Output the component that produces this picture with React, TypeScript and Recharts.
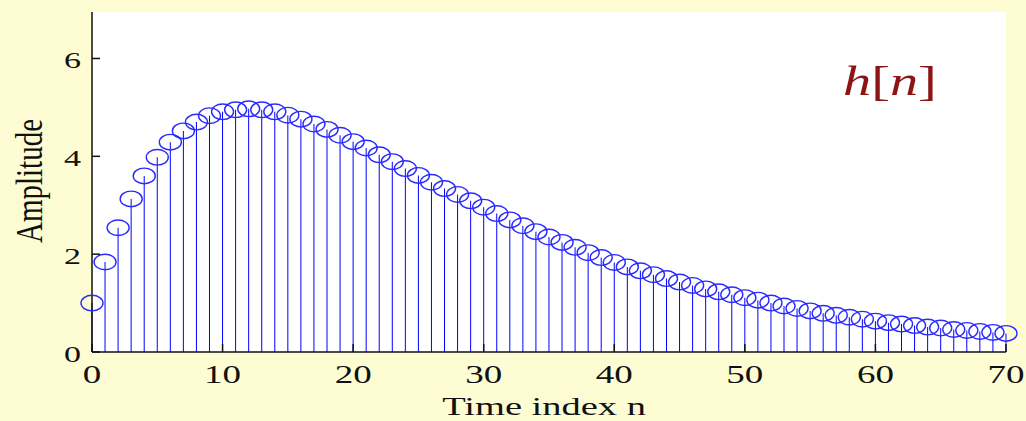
import React from 'react';
import { Bar, CartesianGrid, ComposedChart, Line, XAxis, YAxis } from 'recharts';

// impulse response samples h[n], n = 0..70
const hValues = [
    1.0, 1.84, 2.54, 3.13, 3.6, 3.98, 4.29, 4.52, 4.7, 4.83,
    4.91, 4.95, 4.97, 4.95, 4.91, 4.84, 4.76, 4.66, 4.55, 4.43,
    4.3, 4.17, 4.03, 3.89, 3.75, 3.61, 3.47, 3.34, 3.22, 3.09,
    2.96, 2.83, 2.7, 2.58, 2.46, 2.35, 2.24, 2.14, 2.03, 1.93,
    1.83, 1.74, 1.66, 1.58, 1.5, 1.43, 1.36, 1.29, 1.23, 1.17,
    1.11, 1.06, 1.0, 0.94, 0.89, 0.84, 0.79, 0.75, 0.71, 0.67,
    0.63, 0.6, 0.57, 0.54, 0.51, 0.49, 0.46, 0.44, 0.42, 0.4, 0.38,
];
const xTicks = [0, 10, 20, 30, 40, 50, 60, 70];
const yTicks = [0, 2, 4, 6];

const data = hValues.map((h, n) => ({ n, h }));

const SERIF = "'Liberation Serif', 'Times New Roman', serif";
const BG = '#FDFCD2';
const STRETCH = 1.48;

function XTick({ x, y, payload }: any) {
    return (
        <g transform={`translate(${x},${y}) scale(${STRETCH},1)`}>
            <text textAnchor="middle" dy={31} fontFamily={SERIF} fontSize={25} fill="#111">
                {payload.value}
            </text>
        </g>
    );
}

function YTick({ x, y, payload }: any) {
    return (
        <g transform={`translate(${x},${y}) scale(${STRETCH},1)`}>
            <text textAnchor="end" dy={10} fontFamily={SERIF} fontSize={23} fill="#111">
                {payload.value}
            </text>
        </g>
    );
}

function NoTick() {
    return <g />;
}

function Ring({ cx, cy, index }: any) {
    if (cx == null || cy == null) return <g key={index} />;
    return <ellipse key={index} cx={cx} cy={cy} rx={11} ry={7.8} fill="none" stroke="#2a2aff" strokeWidth={1.4} />;
}

const axisLine = { stroke: '#111', strokeWidth: 1.5 };

export default function App() {
    return (
        <div style={{ position: 'absolute', left: 0, top: 0, width: 1026, height: 421, background: BG, overflow: 'hidden' }}>
            <ComposedChart width={1026} height={421} data={data} margin={{ top: 12, right: 20, bottom: 0, left: 0 }}>
                <CartesianGrid fill="#ffffff" horizontal={false} vertical={false} />
                <XAxis
                    dataKey="n"
                    type="number"
                    domain={[0, 70]}
                    ticks={xTicks}
                    interval={0}
                    height={69}
                    tickSize={-8}
                    tickMargin={8}
                    axisLine={axisLine}
                    tickLine={axisLine}
                    tick={XTick}
                />
                <XAxis
                    xAxisId="top"
                    orientation="top"
                    type="number"
                    domain={[0, 70]}
                    ticks={xTicks}
                    interval={0}
                    height={0}
                    tickSize={-8}
                    axisLine={axisLine}
                    tickLine={axisLine}
                    tick={NoTick}
                />
                <YAxis
                    type="number"
                    domain={[0, 6.95]}
                    ticks={yTicks}
                    interval={0}
                    width={92}
                    tickSize={-8}
                    tickMargin={19}
                    axisLine={axisLine}
                    tickLine={axisLine}
                    tick={YTick}
                />
                <YAxis
                    yAxisId="right"
                    orientation="right"
                    type="number"
                    domain={[0, 6.95]}
                    ticks={yTicks}
                    interval={0}
                    width={0}
                    tickSize={-8}
                    axisLine={axisLine}
                    tickLine={axisLine}
                    tick={NoTick}
                />
                <Bar dataKey="h" barSize={1} fill="#0000ff" isAnimationActive={false} />
                <Line dataKey="h" stroke="none" dot={Ring} activeDot={false} isAnimationActive={false} />
            </ComposedChart>
            <svg width={1026} height={421} style={{ position: 'absolute', left: 0, top: 0, pointerEvents: 'none' }}>
                <text
                    transform="translate(42,181) rotate(-90) scale(1,1.3)"
                    textAnchor="middle"
                    fontFamily={SERIF}
                    fontSize={29}
                    fill="#111"
                >
                    Amplitude
                </text>
                <text
                    transform={`translate(544,415) scale(${STRETCH},1)`}
                    textAnchor="middle"
                    fontFamily={SERIF}
                    fontSize={26}
                    fill="#111"
                >
                    Time index n
                </text>
                <text transform="translate(843,95) scale(1.34,1)" fontFamily={SERIF} fontSize={42} fill="#8c1414">
                    <tspan fontStyle="italic">h</tspan>
                    <tspan>[</tspan>
                    <tspan fontStyle="italic">n</tspan>
                    <tspan>]</tspan>
                </text>
            </svg>
        </div>
    );
}
